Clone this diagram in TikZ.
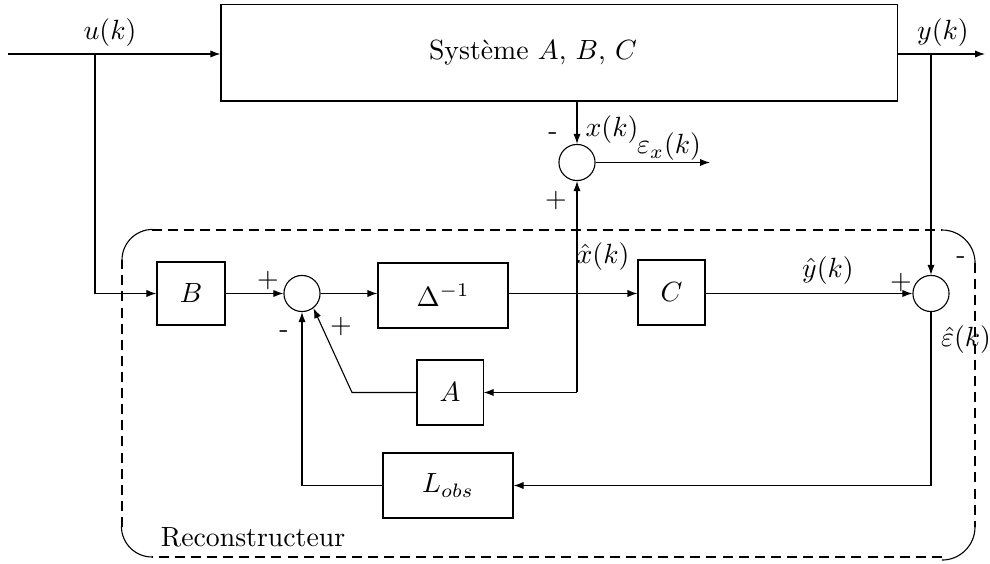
\documentclass[tikz,border=0pt]{standalone}
\usetikzlibrary{arrows.meta}
\begin{document}
\begin{tikzpicture}[x=0.36pt,y=-0.36pt,
  blk/.style={draw, line width=0.4pt, inner sep=0pt},
  sumnode/.style={draw, circle, minimum size=13pt, inner sep=0pt},
  conn/.style={line width=0.4pt},
  arr/.style={conn, -{Latex[length=3.6pt,width=2.6pt]}},
  lbl/.style={inner sep=0pt}]
\useasboundingbox (0,0) rectangle (990,564);

% plant
\node[blk, minimum width=243.4pt, minimum height=34.6pt] (sys) at (559,53) {};
\node[lbl] (systxt) at (533,53) {Système $A$, $B$, $C$};

% observer blocks
\node[blk, minimum width=24.5pt, minimum height=22.7pt] (B) at (191,293.5) {$B$};
\node[blk, minimum width=46.8pt, minimum height=23.4pt] (D) at (443,295.5) {$\Delta^{-1}$};
\node[blk, minimum width=24.1pt, minimum height=23.4pt] (C) at (671.5,292.5) {$C$};
\node[blk, minimum width=23.8pt, minimum height=23.4pt] (A) at (450,392.5) {$A$};
\node[blk, minimum width=46.8pt, minimum height=23.4pt] (L) at (448,485.5) {$L_{obs}$};

% summing junctions
\node[sumnode] (s1) at (302,293.5) {};
\node[sumnode] (s2) at (577,162.5) {};
\node[sumnode] (s3) at (931,293.5) {};

% branch points and free ends
\coordinate (in) at (8,54);
\coordinate (ubr) at (95,54);
\coordinate (out) at (985,54);
\coordinate (ybr) at (931,54);
\coordinate (ex) at (710,162.5);
\coordinate (xa) at (577,392.5);
\coordinate (ak) at (352,392.5);

% signal flow
\draw[arr] (in) -- (sys.west |- in);
\draw[arr] (sys.east |- out) -- (out);
\draw[arr] (ubr) |- (B.west);
\draw[arr] (B.east) -- (s1.west);
\draw[arr] (s1.east) -- (D.west |- s1.east);
\draw[arr] (D.east |- s1.east) -- (C.west |- s1.east);
\draw[arr] (C.east |- s3.west) -- (s3.west);
\draw[arr] (ybr) -- (s3.north);
\draw[arr] (s3.south) |- (L.east);
\draw[arr] (L.west) -| (s1.south);
\draw[arr] (A.west) -- (ak) -- (s1.-52);
\draw[arr] (xa) -- (A.east);
\draw[arr] (xa) -- (s2.south);
\draw[arr] (s2 |- sys.south) -- (s2.north);
\draw[arr] (s2.east) -- (ex);

% signal labels
\node[lbl] (lu) at (110,33) {$u(k)$};
\node[lbl] (ly) at (943,33) {$y(k)$};
\node[lbl] (lx) at (612,130) {$x(k)$};
\node[lbl] (lex) at (669,147) {$\varepsilon_x(k)$};
\node[lbl] (lxh) at (603,257) {$\hat{x}(k)$};
\node[lbl] (lyh) at (828,271) {$\hat{y}(k)$};
\node[lbl] (leh) at (966,340) {$\hat{\varepsilon}(k)$};

% signs at the junctions
\node[lbl] (m2) at (553,136) {-};
\node[lbl] (p2) at (556,201) {$+$};
\node[lbl] (p1a) at (268,281) {$+$};
\node[lbl] (p1b) at (341,327) {$+$};
\node[lbl] (m1) at (284,334) {-};
\node[lbl] (p3) at (901,283) {$+$};
\node[lbl] (m3) at (961,260) {-};

% observer frame: dashed sides, solid rounded corners
\draw[conn, dash pattern=on 3.6pt off 2.2pt] (152,230) -- (942,230);
\draw[conn, dash pattern=on 3.6pt off 2.2pt] (975,263) -- (975,527);
\draw[conn, dash pattern=on 3.6pt off 2.2pt] (942,557) -- (152,557);
\draw[conn, dash pattern=on 3.6pt off 2.2pt] (122,527) -- (122,260);
\draw[conn] (122,260) arc[start angle=180, end angle=90, radius=11pt];
\draw[conn] (942,230) arc[start angle=90, end angle=0, radius=11.9pt];
\draw[conn] (975,527) arc[start angle=0, end angle=-90, radius=11.9pt];
\draw[conn] (152,557) arc[start angle=270, end angle=180, radius=11pt];
\node[lbl] (rec) at (253,537) {Reconstructeur};
\end{tikzpicture}
\end{document}
